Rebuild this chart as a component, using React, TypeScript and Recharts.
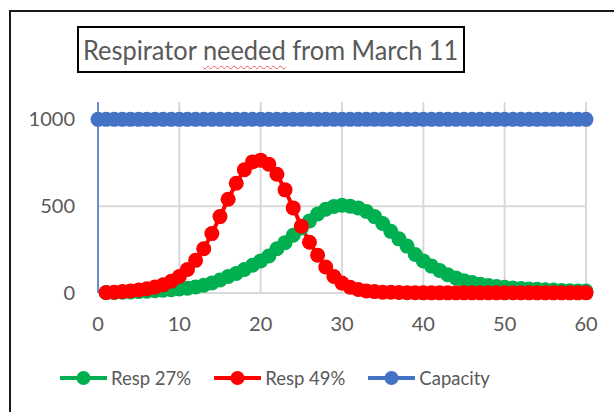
import React from "react";
import { LineChart, Line, XAxis, YAxis, CartesianGrid } from "recharts";

const days = [
  0, 1, 2, 3, 4, 5, 6, 7, 8, 9, 10, 11, 12, 13, 14, 15, 16, 17, 18, 19, 20,
  21, 22, 23, 24, 25, 26, 27, 28, 29, 30, 31, 32, 33, 34, 35, 36, 37, 38, 39, 40,
  41, 42, 43, 44, 45, 46, 47, 48, 49, 50, 51, 52, 53, 54, 55, 56, 57, 58, 59, 60,
];

// day 1..60
const resp27 = [
  2, 3, 4, 6, 8, 10, 13, 16, 19, 23, 28, 35, 45, 58, 75, 95, 113, 135, 160, 185,
  213, 255, 290, 333, 375, 415, 455, 482, 498, 505, 500, 490, 470, 440, 400, 355, 312, 270, 222, 185,
  155, 130, 105, 87, 71, 60, 50, 43, 37, 33, 29, 26, 23, 21, 19, 17, 15, 13, 12, 11,
];

// day 1..60
const resp49 = [
  3, 5, 8, 12, 17, 24, 34, 47, 68, 95, 135, 188, 255, 342, 440, 540, 632, 710, 755, 765,
  742, 684, 594, 490, 385, 292, 218, 150, 95, 57, 33, 20, 12, 8, 5, 4, 3, 2, 2, 1,
  1, 1, 1, 1, 1, 1, 1, 1, 1, 1, 1, 1, 1, 1, 1, 1, 1, 1, 1, 1,
];

// day 0..60
const capacity = [
  1000, 1000, 1000, 1000, 1000, 1000, 1000, 1000, 1000, 1000, 1000, 1000, 1000, 1000, 1000, 1000,
  1000, 1000, 1000, 1000, 1000, 1000, 1000, 1000, 1000, 1000, 1000, 1000, 1000, 1000, 1000, 1000,
  1000, 1000, 1000, 1000, 1000, 1000, 1000, 1000, 1000, 1000, 1000, 1000, 1000, 1000, 1000, 1000,
  1000, 1000, 1000, 1000, 1000, 1000, 1000, 1000, 1000, 1000, 1000, 1000, 1000,
];

const xTicks = [0, 10, 20, 30, 40, 50, 60];
const yTicks = [0, 500, 1000];

const GREEN = "#00B050";
const RED = "#FF0000";
const BLUE = "#4472C4";
const TEXT = "#595959";
const FONT = "Lato, 'Liberation Sans', sans-serif";

const rows = days.map((d, i) => ({
  day: d,
  resp27: i === 0 ? null : resp27[i - 1],
  resp49: i === 0 ? null : resp49[i - 1],
  capacity: capacity[i],
}));

const series = [
  { key: "resp27", name: "Resp 27%", color: GREEN },
  { key: "resp49", name: "Resp 49%", color: RED },
  { key: "capacity", name: "Capacity", color: BLUE },
];

function LegendItem({ name, color }: { name: string; color: string }) {
  return (
    <div style={{ display: "flex", alignItems: "center", marginRight: 23 }}>
      <svg width={47} height={16} style={{ marginRight: 4 }}>
        <line x1={1} y1={8} x2={46} y2={8} stroke={color} strokeWidth={4} strokeLinecap="round" />
        <circle cx={23.5} cy={8} r={7} fill={color} />
      </svg>
      <span>{name}</span>
    </div>
  );
}

export default function App() {
  const tick = { fill: TEXT, fontSize: 20, fontFamily: FONT };
  return (
    <div style={{ position: "absolute", left: 0, top: 0, width: 614, height: 412, overflow: "hidden", background: "#fff", fontFamily: FONT }}>
      <div style={{ position: "absolute", left: 9, top: 10, width: 640, height: 440, border: "2px solid #1a1a1a", boxSizing: "border-box" }} />
      <div
        style={{
          position: "absolute", left: 77, top: 26, width: 388, height: 47, border: "2px solid #000",
          boxSizing: "border-box", display: "flex", alignItems: "center", justifyContent: "center",
          color: TEXT, fontSize: 27, whiteSpace: "nowrap", background: "#fff",
        }}
      >
        <span style={{ display: "inline-block", transform: "scaleX(0.94)" }}>
          Respirator{" "}
          <span style={{ textDecoration: "underline wavy #e35b5b", textDecorationThickness: 1, textUnderlineOffset: 5 }}>needed</span>{" "}
          from March 11
        </span>
      </div>
      <LineChart width={614} height={412} data={rows} margin={{ top: 102, right: 28, left: 0, bottom: 0 }}>
        <CartesianGrid stroke="#d9d9d9" strokeWidth={2} horizontalValues={yTicks} verticalValues={xTicks} />
        <XAxis
          type="number" dataKey="day" domain={[0, 60]} ticks={xTicks} height={119}
          axisLine={false} tickLine={false} tickMargin={18} tick={tick} interval={0}
        />
        <YAxis
          type="number" domain={[0, 1100]} ticks={yTicks} width={98}
          axisLine={{ stroke: BLUE, strokeWidth: 1.5 }} tickLine={false} tickMargin={17} tick={tick} interval={0}
        />
        {series.map((s) => (
          <Line
            key={s.key}
            dataKey={s.key}
            name={s.name}
            stroke={s.color}
            strokeWidth={4}
            dot={{ r: 7.5, fill: s.color, stroke: s.color, strokeWidth: 0 }}
            activeDot={false}
            isAnimationActive={false}
            connectNulls={false}
          />
        ))}
      </LineChart>
      <div style={{ position: "absolute", left: 60, top: 367, display: "flex", color: TEXT, fontSize: 18.5 }}>
        {series.map((s) => (
          <LegendItem key={s.key} name={s.name} color={s.color} />
        ))}
      </div>
    </div>
  );
}
